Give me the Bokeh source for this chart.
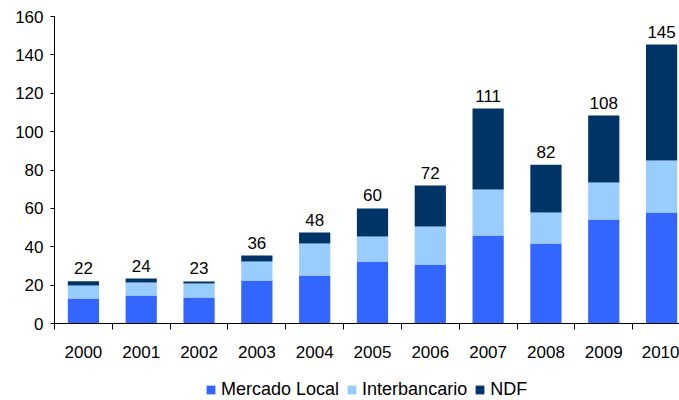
from bokeh.plotting import figure
from bokeh.layouts import column
from bokeh.models import ColumnDataSource, FixedTicker, Legend, LegendItem, Range1d
from bokeh.core.properties import value
from bokeh.embed import file_html
from bokeh.resources import INLINE

years = ["2000", "2001", "2002", "2003", "2004", "2005", "2006", "2007", "2008", "2009", "2010"]
mercado_local = [13.0, 14.6, 13.5, 22.4, 25.0, 32.3, 30.7, 45.9, 41.7, 54.2, 57.8]
interbancario = [6.8, 6.8, 7.3, 9.9, 16.7, 13.0, 19.8, 23.9, 16.1, 19.3, 27.2]
ndf = [2.2, 2.0, 1.1, 3.1, 5.7, 14.7, 21.4, 42.2, 25.0, 34.9, 60.4]
totals = [22, 24, 23, 36, 48, 60, 72, 111, 82, 108, 145]
series = ["Mercado Local", "Interbancario", "NDF"]
colors = ["#3366FF", "#99CCFF", "#003366"]

FONT = "Liberation Sans"
xs = list(range(len(years)))
src = ColumnDataSource(dict(
    x=xs, ml=mercado_local, ib=interbancario, nd=ndf,
    tops=[a + b + c for a, b, c in zip(mercado_local, interbancario, ndf)],
    lab=[str(t) for t in totals],
))

p = figure(width=679, height=376, output_backend="svg", toolbar_location=None,
           x_range=Range1d(-0.5, 10.31), y_range=Range1d(0, 160),
           min_border_left=54, min_border_right=0, min_border_top=16, min_border_bottom=53)
p.outline_line_color = None
p.xgrid.visible = False
p.ygrid.visible = False

r = p.vbar_stack(["ml", "ib", "nd"], x="x", width=0.54, source=src,
                 color=colors, line_color=None)

p.text(x="x", y="tops", text="lab", source=src, text_align="center",
       text_baseline="bottom", y_offset=-7, text_font=value(FONT),
       text_font_size="17px", text_color="#000000")

# x axis: labels at centres, tick marks at category boundaries
p.xaxis.ticker = FixedTicker(ticks=xs, minor_ticks=[i - 0.5 for i in range(len(years) + 1)])
p.xaxis.major_label_overrides = {i: y for i, y in enumerate(years)}
p.xaxis.major_tick_out = 0
p.xaxis.major_tick_in = 0
p.xaxis.minor_tick_out = 6
p.xaxis.minor_tick_in = 0
p.xaxis.minor_tick_line_color = "#000000"
p.xaxis.axis_line_color = "#000000"
p.xaxis.major_label_standoff = 16
p.xaxis.major_label_text_font = FONT
p.xaxis.major_label_text_font_size = "17px"
p.xaxis.major_label_text_color = "#000000"

p.yaxis.ticker = FixedTicker(ticks=list(range(0, 161, 20)), minor_ticks=[])
p.yaxis.major_tick_out = 4
p.yaxis.major_tick_in = 0
p.yaxis.minor_tick_out = 0
p.yaxis.axis_line_color = "#000000"
p.yaxis.major_tick_line_color = "#000000"
p.yaxis.major_label_standoff = 7
p.yaxis.major_label_text_font = FONT
p.yaxis.major_label_text_font_size = "17px"
p.yaxis.major_label_text_color = "#000000"

# legend strip underneath the chart (its proxy renderers have zero height)
p2 = figure(width=679, height=24, output_backend="svg", toolbar_location=None,
            x_range=Range1d(0, 1), y_range=Range1d(0, 1),
            min_border_left=0, min_border_right=0, min_border_top=0, min_border_bottom=0)
p2.outline_line_color = None
p2.axis.visible = False
p2.grid.visible = False
leg_renderers = [p2.vbar(x=[-50], top=[0], bottom=[0], width=0.1, color=c, line_color=None)
                 for c in colors]
legend = Legend(items=[LegendItem(label=s, renderers=[leg_renderers[i]]) for i, s in enumerate(series)],
                orientation="horizontal", location=(151, 0),
                label_text_font=FONT, label_text_font_size="18px", label_text_color="#000000",
                glyph_width=11, glyph_height=11, label_standoff=5, spacing=7,
                padding=0, margin=0, border_line_color=None, background_fill_alpha=0)
p2.add_layout(legend, "center")

layout = column(p, p2, spacing=0)
open("out.html", "w").write(file_html(layout, INLINE))
